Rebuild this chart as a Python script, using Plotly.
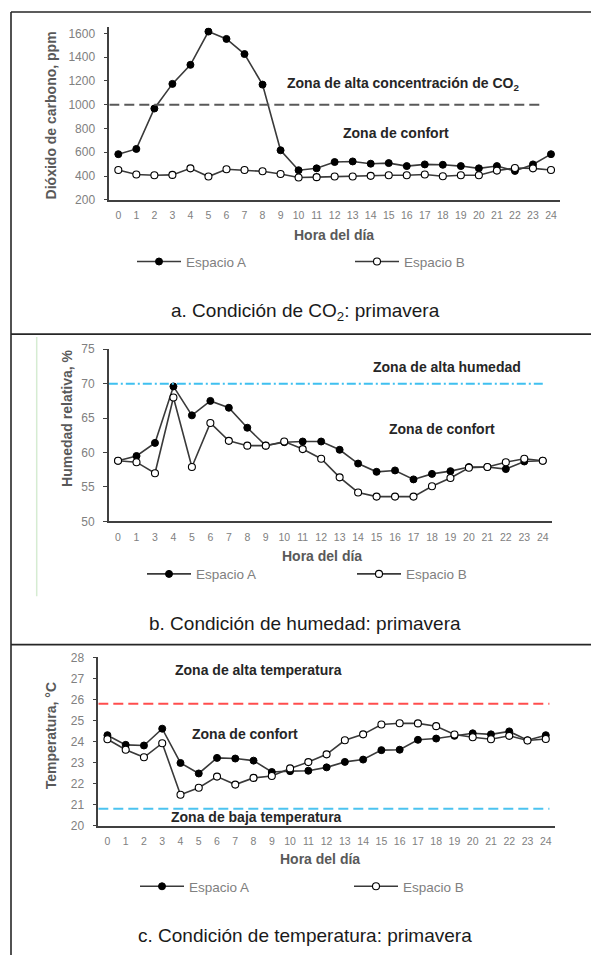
import plotly.graph_objects as go

W, H = 591, 962

# ---------------- data ----------------
hours = list(range(25))
co2_a = [584, 628, 968, 1175, 1335, 1615, 1553, 1426, 1169, 617, 449, 465, 518, 523, 504,
         509, 484, 498, 495, 484, 465, 484, 443, 498, 584]
co2_b = [451, 413, 407, 410, 465, 396, 457, 451, 440, 418, 388, 391, 396, 396, 402,
         407, 407, 413, 399, 407, 407, 446, 468, 465, 451]
co2_limit = 1000

hum_hours = ["0", "1", "3", "4", "5", "6", "7", "8", "9", "10", "11", "12", "13", "14",
             "15", "16", "17", "18", "19", "20", "21", "22", "23", "24"]
hum_a = [58.8, 59.5, 61.4, 69.6, 65.4, 67.5, 66.5, 63.6, 61.0, 61.5, 61.6, 61.6, 60.4,
         58.4, 57.2, 57.4, 56.1, 56.9, 57.3, 57.9, 57.9, 57.6, 58.7, 58.8]
hum_b = [58.8, 58.6, 57.0, 68.0, 57.9, 64.3, 61.7, 61.0, 61.0, 61.6, 60.5, 59.1, 56.4,
         54.2, 53.6, 53.6, 53.6, 55.1, 56.3, 57.8, 57.9, 58.6, 59.1, 58.8]
hum_limit = 70

temp_a = [24.30, 23.84, 23.81, 24.61, 22.98, 22.48, 23.22, 23.19, 23.09, 22.55, 22.59,
          22.61, 22.77, 23.03, 23.14, 23.59, 23.61, 24.08, 24.14, 24.27, 24.39, 24.34,
          24.48, 24.06, 24.30]
temp_b = [24.11, 23.61, 23.25, 23.92, 21.47, 21.80, 22.33, 21.95, 22.27, 22.36, 22.72,
          23.02, 23.39, 24.06, 24.34, 24.81, 24.87, 24.86, 24.73, 24.33, 24.20, 24.11,
          24.27, 24.05, 24.12]
temp_high = 25.8
temp_low = 20.8

series_names = ["Espacio A", "Espacio B"]

# ---------------- helpers ----------------
FONT = "Liberation Sans, Arial, sans-serif"
LINE_C = "#3a3a3a"
GRAY = "#808080"
TITLE_C = "#595959"


def px(x):
    return x / W


def py(y):
    return 1 - y / H


fig = go.Figure()

panels = [
    dict(x=hours, a=co2_a, b=co2_b, xa="x", ya="y", leg="legend"),
    dict(x=hum_hours, a=hum_a, b=hum_b, xa="x2", ya="y2", leg="legend2"),
    dict(x=hours, a=temp_a, b=temp_b, xa="x3", ya="y3", leg="legend3"),
]

for p in panels:
    fig.add_trace(go.Scatter(
        x=p["x"], y=p["a"], name=series_names[0], mode="lines+markers",
        line=dict(color=LINE_C, width=1.6),
        marker=dict(symbol="circle", size=7, color="#000000",
                    line=dict(color="#000000", width=1)),
        xaxis=p["xa"], yaxis=p["ya"], legend=p["leg"]))
    fig.add_trace(go.Scatter(
        x=p["x"], y=p["b"], name=series_names[1], mode="lines+markers",
        line=dict(color=LINE_C, width=1.6),
        marker=dict(symbol="circle", size=7, color="#ffffff",
                    line=dict(color="#000000", width=1.1)),
        xaxis=p["xa"], yaxis=p["ya"], legend=p["leg"]))

axis_common = dict(showgrid=False, zeroline=False, showline=True,
                   linecolor="#404040", linewidth=1.6, mirror=False)
xt = dict(tickfont=dict(family=FONT, size=10.5, color=GRAY), ticks="", ticklabelstandoff=5)
yt = dict(tickfont=dict(family=FONT, size=12, color=GRAY), ticks="outside", ticklen=4,
          tickcolor="#404040", tickwidth=1.2, ticklabelstandoff=6)

fig.update_layout(
    width=W, height=H, margin=dict(l=0, r=0, t=0, b=0),
    paper_bgcolor="white", plot_bgcolor="white",
    font=dict(family=FONT),
    xaxis=dict(domain=[px(109.3), px(560)], range=[-0.5, 24.5], tickmode="array",
               tickvals=hours, anchor="y", **axis_common, **xt),
    yaxis=dict(domain=[py(195.7), py(20.7)], range=[200, 1650], tickvals=list(range(200, 1601, 200)),
               anchor="x", **axis_common, **yt),
    xaxis2=dict(domain=[px(108.8), px(552)], type="category", range=[-0.5, 23.5],
                anchor="y2", **axis_common, **xt),
    yaxis2=dict(domain=[py(522), py(347.3)], range=[50, 75], tickvals=list(range(50, 76, 5)),
                anchor="x2", **axis_common, **yt),
    xaxis3=dict(domain=[px(98.3), px(554.9)], range=[-0.5, 24.5], tickmode="array",
                tickvals=hours, anchor="y3", **axis_common, **xt),
    yaxis3=dict(domain=[py(830.7), py(660)], range=[20, 28], tickvals=list(range(20, 29)),
                anchor="x3", **axis_common, **yt),
)

leg_common = dict(orientation="h", font=dict(family=FONT, size=13.5, color=GRAY),
                  bgcolor="rgba(0,0,0,0)", xanchor="left", yanchor="middle",
                  itemwidth=44, entrywidthmode="pixels", itemclick=False)
fig.update_layout(
    legend=dict(x=px(132), y=py(258.5), entrywidth=159, **leg_common),
    legend2=dict(x=px(142), y=py(575.5), entrywidth=151, **leg_common),
    legend3=dict(x=px(135), y=py(892.5), entrywidth=155, **leg_common),
)

# zone threshold lines
shapes = [
    dict(type="line", xref="x", yref="y", x0=-0.5, x1=23.6, y0=co2_limit, y1=co2_limit,
         line=dict(color="#595959", width=2, dash="10px,5px")),
    dict(type="line", xref="x2", yref="y2", x0=-0.5, x1=23, y0=hum_limit, y1=hum_limit,
         line=dict(color="#3fc0f0", width=2, dash="9px,3px,2px,3px")),
    dict(type="line", xref="x3", yref="y3", x0=-0.5, x1=24.2, y0=temp_high, y1=temp_high,
         line=dict(color="#ff4d4d", width=2, dash="10px,5px")),
    dict(type="line", xref="x3", yref="y3", x0=-0.5, x1=24.2, y0=temp_low, y1=temp_low,
         line=dict(color="#4cc3f0", width=2, dash="10px,5px")),
]
# frame lines
BC = "#262626"
shapes += [
    dict(type="line", xref="paper", yref="paper", x0=px(11), x1=1, y0=py(5), y1=py(5),
         line=dict(color=BC, width=1.6)),
    dict(type="line", xref="paper", yref="paper", x0=px(11), x1=px(11), y0=py(5), y1=0,
         line=dict(color=BC, width=1.6)),
    dict(type="line", xref="paper", yref="paper", x0=px(11), x1=1, y0=py(332), y1=py(332),
         line=dict(color=BC, width=1.6)),
    dict(type="line", xref="paper", yref="paper", x0=px(11), x1=1, y0=py(647), y1=py(647),
         line=dict(color=BC, width=1.6)),
    dict(type="line", xref="paper", yref="paper", x0=px(36.7), x1=px(36.7), y0=py(335), y1=py(598),
         line=dict(color="#d6ecd2", width=1.5)),
]
fig.update_layout(shapes=shapes)

ann = []


def text(x, y, s, size=14, bold=True, color="#262626", angle=0):
    ann.append(dict(xref="paper", yref="paper", x=px(x), y=py(y), text=(f"<b>{s}</b>" if bold else s),
                    showarrow=False, xanchor="center", yanchor="middle", textangle=angle,
                    font=dict(family=FONT, size=size, color=color)))


# zone labels
text(403, 78, "Zona de alta concentración de CO<sub>2</sub>")
text(396, 127.7, "Zona de confort")
text(446.7, 365.7, "Zona de alta humedad")
text(441.8, 428.7, "Zona de confort")
text(258, 672.7, "Zona de alta temperatura")
text(245, 737.3, "Zona de confort")
text(256, 821.7, "Zona de baja temperatura")

# axis titles
text(51, 110, "Dióxido de carbono, ppm", size=14, color=TITLE_C, angle=-90)
text(67, 418, "Humedad relativa, %", size=14, color=TITLE_C, angle=-90)
text(51, 740, "Temperatura, °C", size=14, color=TITLE_C, angle=-90)
text(333.6, 231, "Hora del día", size=14, color=TITLE_C)
text(322, 557.3, "Hora del día", size=14, color=TITLE_C)
text(319.6, 865, "Hora del día", size=14, color=TITLE_C)

# captions
text(305, 310, "a. Condición de CO<sub>2</sub>: primavera", size=19, bold=False, color="#1a1a1a")
text(305, 625.3, "b. Condición de humedad: primavera", size=19, bold=False, color="#1a1a1a")
text(305, 942.7, "c. Condición de temperatura: primavera", size=19, bold=False, color="#1a1a1a")

fig.update_layout(annotations=ann)

fig.write_html("out.html")
